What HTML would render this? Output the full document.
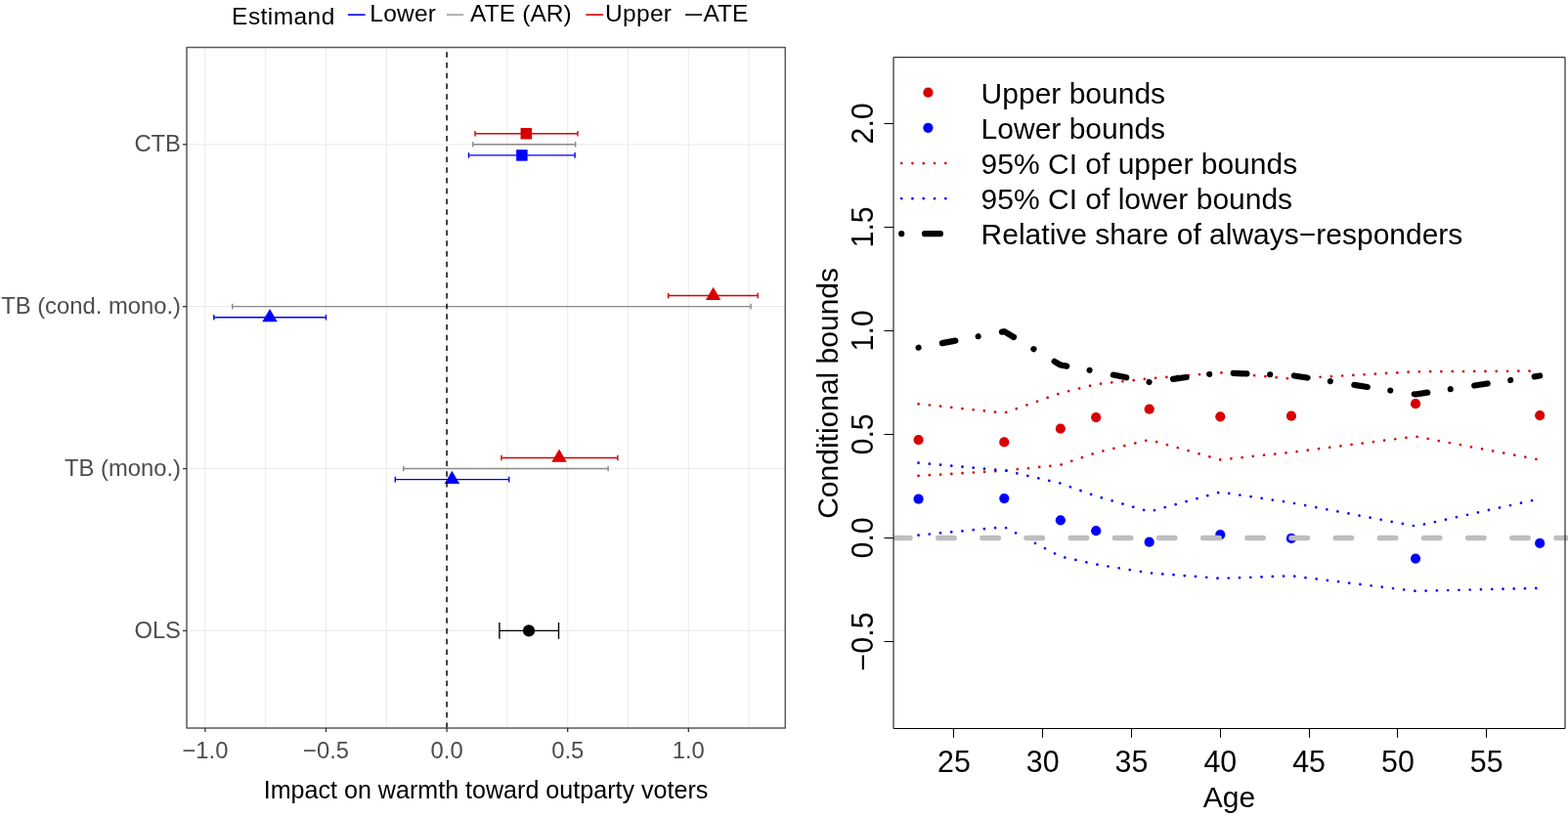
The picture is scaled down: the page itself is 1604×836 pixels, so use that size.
<!DOCTYPE html>
<html><head><meta charset="utf-8"><title>Plots</title>
<style>html,body{margin:0;padding:0;background:#fff;}body{width:1604px;height:836px;overflow:hidden;}svg{display:block;}</style>
</head><body>
<svg width="1604" height="836" viewBox="0 0 1604 836">
<rect x="0" y="0" width="1604" height="836" fill="#FFFFFF"/>
<g stroke="#EBEBEB" stroke-width="1.1"><line x1="209.90" y1="48.4" x2="209.90" y2="745.0"/><line x1="271.70" y1="48.4" x2="271.70" y2="745.0"/><line x1="333.50" y1="48.4" x2="333.50" y2="745.0"/><line x1="395.30" y1="48.4" x2="395.30" y2="745.0"/><line x1="457.10" y1="48.4" x2="457.10" y2="745.0"/><line x1="518.90" y1="48.4" x2="518.90" y2="745.0"/><line x1="580.70" y1="48.4" x2="580.70" y2="745.0"/><line x1="642.50" y1="48.4" x2="642.50" y2="745.0"/><line x1="704.30" y1="48.4" x2="704.30" y2="745.0"/><line x1="766.10" y1="48.4" x2="766.10" y2="745.0"/><line x1="191.0" y1="147.80" x2="803.3" y2="147.80"/><line x1="191.0" y1="313.67" x2="803.3" y2="313.67"/><line x1="191.0" y1="479.54" x2="803.3" y2="479.54"/><line x1="191.0" y1="645.41" x2="803.3" y2="645.41"/></g>
<g stroke="#D70000" stroke-width="1.4" fill="none"><line x1="486.00" y1="136.70" x2="591.00" y2="136.70"/><line x1="486.00" y1="133.90" x2="486.00" y2="139.50"/><line x1="591.00" y1="133.90" x2="591.00" y2="139.50"/></g>
<g stroke="#8A8A8A" stroke-width="1.4" fill="none"><line x1="483.80" y1="147.80" x2="588.70" y2="147.80"/><line x1="483.80" y1="145.00" x2="483.80" y2="150.60"/><line x1="588.70" y1="145.00" x2="588.70" y2="150.60"/></g>
<g stroke="#0000FF" stroke-width="1.4" fill="none"><line x1="479.50" y1="158.90" x2="588.10" y2="158.90"/><line x1="479.50" y1="156.10" x2="479.50" y2="161.70"/><line x1="588.10" y1="156.10" x2="588.10" y2="161.70"/></g>
<rect x="532.55" y="130.95" width="11.5" height="11.5" fill="#D70000"/>
<rect x="528.15" y="153.15" width="11.5" height="11.5" fill="#0000FF"/>
<g stroke="#D70000" stroke-width="1.4" fill="none"><line x1="683.60" y1="302.57" x2="775.20" y2="302.57"/><line x1="683.60" y1="299.77" x2="683.60" y2="305.37"/><line x1="775.20" y1="299.77" x2="775.20" y2="305.37"/></g>
<g stroke="#8A8A8A" stroke-width="1.4" fill="none"><line x1="237.70" y1="313.67" x2="768.10" y2="313.67"/><line x1="237.70" y1="310.87" x2="237.70" y2="316.47"/><line x1="768.10" y1="310.87" x2="768.10" y2="316.47"/></g>
<g stroke="#0000FF" stroke-width="1.4" fill="none"><line x1="218.80" y1="324.77" x2="333.50" y2="324.77"/><line x1="218.80" y1="321.97" x2="218.80" y2="327.57"/><line x1="333.50" y1="321.97" x2="333.50" y2="327.57"/></g>
<polygon points="729.60,293.72 737.35,307.00 721.85,307.00" fill="#D70000"/>
<polygon points="276.00,315.92 283.75,329.20 268.25,329.20" fill="#0000FF"/>
<g stroke="#D70000" stroke-width="1.4" fill="none"><line x1="512.90" y1="468.44" x2="631.90" y2="468.44"/><line x1="512.90" y1="465.64" x2="512.90" y2="471.24"/><line x1="631.90" y1="465.64" x2="631.90" y2="471.24"/></g>
<g stroke="#8A8A8A" stroke-width="1.4" fill="none"><line x1="412.70" y1="479.54" x2="622.10" y2="479.54"/><line x1="412.70" y1="476.74" x2="412.70" y2="482.34"/><line x1="622.10" y1="476.74" x2="622.10" y2="482.34"/></g>
<g stroke="#0000FF" stroke-width="1.4" fill="none"><line x1="404.30" y1="490.64" x2="520.70" y2="490.64"/><line x1="404.30" y1="487.84" x2="404.30" y2="493.44"/><line x1="520.70" y1="487.84" x2="520.70" y2="493.44"/></g>
<polygon points="572.00,459.59 579.75,472.87 564.25,472.87" fill="#D70000"/>
<polygon points="462.40,481.79 470.15,495.07 454.65,495.07" fill="#0000FF"/>
<g stroke="#000000" stroke-width="1.4" fill="none"><line x1="510.90" y1="645.41" x2="571.50" y2="645.41"/><line x1="510.90" y1="636.96" x2="510.90" y2="653.86"/><line x1="571.50" y1="636.96" x2="571.50" y2="653.86"/></g>
<circle cx="541.0" cy="645.41" r="6.1" fill="#000000"/>
<line x1="457.1" y1="48.4" x2="457.1" y2="745.0" stroke="#000" stroke-opacity="0.8" stroke-width="1.8" stroke-dasharray="5.5 5.222" stroke-dashoffset="5.822"/>
<rect x="191.0" y="48.4" width="612.30" height="696.60" fill="none" stroke="#5A5A5A" stroke-width="1.5" stroke-linejoin="round"/>
<g stroke="#333333" stroke-width="1.3"><line x1="187" y1="147.80" x2="191.0" y2="147.80"/><line x1="187" y1="313.67" x2="191.0" y2="313.67"/><line x1="187" y1="479.54" x2="191.0" y2="479.54"/><line x1="187" y1="645.41" x2="191.0" y2="645.41"/><line x1="209.90" y1="745.0" x2="209.90" y2="749"/><line x1="333.50" y1="745.0" x2="333.50" y2="749"/><line x1="457.10" y1="745.0" x2="457.10" y2="749"/><line x1="580.70" y1="745.0" x2="580.70" y2="749"/><line x1="704.30" y1="745.0" x2="704.30" y2="749"/></g>
<text x="185" y="154.90" font-family="Liberation Sans, Arial, Helvetica, sans-serif" font-size="23.8" fill="#4D4D4D" text-anchor="end">CTB</text>
<text x="185" y="320.77" font-family="Liberation Sans, Arial, Helvetica, sans-serif" font-size="23.8" fill="#4D4D4D" text-anchor="end">TB (cond. mono.)</text>
<text x="185" y="486.64" font-family="Liberation Sans, Arial, Helvetica, sans-serif" font-size="23.8" fill="#4D4D4D" text-anchor="end">TB (mono.)</text>
<text x="185" y="652.51" font-family="Liberation Sans, Arial, Helvetica, sans-serif" font-size="23.8" fill="#4D4D4D" text-anchor="end">OLS</text>
<text x="209.90" y="775.5" font-family="Liberation Sans, Arial, Helvetica, sans-serif" font-size="23.8" fill="#4D4D4D" text-anchor="middle">−1.0</text>
<text x="333.50" y="775.5" font-family="Liberation Sans, Arial, Helvetica, sans-serif" font-size="23.8" fill="#4D4D4D" text-anchor="middle">−0.5</text>
<text x="457.10" y="775.5" font-family="Liberation Sans, Arial, Helvetica, sans-serif" font-size="23.8" fill="#4D4D4D" text-anchor="middle">0.0</text>
<text x="580.70" y="775.5" font-family="Liberation Sans, Arial, Helvetica, sans-serif" font-size="23.8" fill="#4D4D4D" text-anchor="middle">0.5</text>
<text x="704.30" y="775.5" font-family="Liberation Sans, Arial, Helvetica, sans-serif" font-size="23.8" fill="#4D4D4D" text-anchor="middle">1.0</text>
<text x="497.0" y="816.7" font-family="Liberation Sans, Arial, Helvetica, sans-serif" font-size="25.1" fill="#000" text-anchor="middle">Impact on warmth toward outparty voters</text>
<text x="237.1" y="24.7" font-family="Liberation Sans, Arial, Helvetica, sans-serif" font-size="24.5" letter-spacing="0.44" fill="#000">Estimand</text>
<line x1="355.9" y1="15.1" x2="373.6" y2="15.1" stroke="#0000FF" stroke-width="1.6"/>
<text x="378.3" y="22.4" font-family="Liberation Sans, Arial, Helvetica, sans-serif" font-size="24.5" letter-spacing="0.22" fill="#000">Lower</text>
<line x1="456.8" y1="15.1" x2="474.3" y2="15.1" stroke="#A0A0A0" stroke-width="1.6"/>
<text x="481.1" y="22.4" font-family="Liberation Sans, Arial, Helvetica, sans-serif" font-size="24.5" letter-spacing="0.1" fill="#000">ATE (AR)</text>
<line x1="599.4" y1="15.1" x2="617.0" y2="15.1" stroke="#D70000" stroke-width="1.6"/>
<text x="619.1" y="22.4" font-family="Liberation Sans, Arial, Helvetica, sans-serif" font-size="24.5" letter-spacing="0.3" fill="#000">Upper</text>
<line x1="701.1" y1="15.1" x2="718.1" y2="15.1" stroke="#000000" stroke-width="1.6"/>
<text x="719.4" y="22.4" font-family="Liberation Sans, Arial, Helvetica, sans-serif" font-size="24.5" letter-spacing="0.0" fill="#000">ATE</text>
<g fill="none" stroke-linecap="round" stroke-linejoin="round">
<polyline points="939.58,413.30 1027.29,422.60 1084.86,402.20 1121.18,393.20 1175.66,387.30 1248.30,381.30 1320.94,387.40 1448.06,380.30 1575.18,379.60" stroke="#D70000" stroke-width="2.7" stroke-dasharray="0.01 11.26"/>
<polyline points="939.58,486.90 1027.29,481.60 1084.86,475.70 1121.18,463.20 1175.66,450.00 1248.30,470.40 1320.94,462.80 1448.06,446.60 1575.18,470.50" stroke="#D70000" stroke-width="2.7" stroke-dasharray="0.01 11.26"/>
<polyline points="939.58,473.70 1027.29,481.30 1084.86,494.60 1121.18,507.60 1175.66,523.50 1248.30,503.50 1320.94,514.40 1448.06,538.40 1575.18,510.40" stroke="#0000FF" stroke-width="2.7" stroke-dasharray="0.01 11.26"/>
<polyline points="939.58,547.60 1027.29,539.20 1084.86,569.50 1121.18,577.50 1175.66,586.30 1248.30,591.80 1320.94,589.30 1448.06,604.80 1575.18,601.80" stroke="#0000FF" stroke-width="2.7" stroke-dasharray="0.01 11.26"/>
<polyline points="939.58,355.70 1027.29,339.20 1084.86,373.50 1121.18,380.00 1175.66,391.00 1248.30,381.50 1320.94,384.00 1448.06,403.50 1575.18,384.50" stroke="#000" stroke-width="6.2" stroke-dasharray="0.01 24.7 13.7 23.74"/>
</g>
<circle cx="939.58" cy="450.1" r="5.1" fill="#D70000"/>
<circle cx="1027.29" cy="452.4" r="5.1" fill="#D70000"/>
<circle cx="1084.86" cy="438.6" r="5.1" fill="#D70000"/>
<circle cx="1121.18" cy="427.1" r="5.1" fill="#D70000"/>
<circle cx="1175.66" cy="418.7" r="5.1" fill="#D70000"/>
<circle cx="1248.30" cy="426.3" r="5.1" fill="#D70000"/>
<circle cx="1320.94" cy="425.7" r="5.1" fill="#D70000"/>
<circle cx="1448.06" cy="413.2" r="5.1" fill="#D70000"/>
<circle cx="1575.18" cy="425.1" r="5.1" fill="#D70000"/>
<circle cx="939.58" cy="510.7" r="5.1" fill="#0000FF"/>
<circle cx="1027.29" cy="510.1" r="5.1" fill="#0000FF"/>
<circle cx="1084.86" cy="532.3" r="5.1" fill="#0000FF"/>
<circle cx="1121.18" cy="543.2" r="5.1" fill="#0000FF"/>
<circle cx="1175.66" cy="554.7" r="5.1" fill="#0000FF"/>
<circle cx="1248.30" cy="547.1" r="5.1" fill="#0000FF"/>
<circle cx="1320.94" cy="550.9" r="5.1" fill="#0000FF"/>
<circle cx="1448.06" cy="571.6" r="5.1" fill="#0000FF"/>
<circle cx="1575.18" cy="555.9" r="5.1" fill="#0000FF"/>
<svg x="914.0" y="0" width="690.0" height="836" overflow="hidden"><line x1="-44.57" y1="550.4" x2="700.0" y2="550.4" stroke="#BEBEBE" stroke-width="5.5" stroke-linecap="round" stroke-dasharray="16.4 28.76"/></svg>
<path d="M914.0 58.7 H1601.0 V745.5 H914.0 Z" stroke="#000" stroke-width="1" fill="none" stroke-linejoin="round"/>
<g stroke="#000" stroke-width="1"><line x1="904.5" y1="656.5" x2="914.0" y2="656.5"/><line x1="904.5" y1="550.5" x2="914.0" y2="550.5"/><line x1="904.5" y1="444.5" x2="914.0" y2="444.5"/><line x1="904.5" y1="338.5" x2="914.0" y2="338.5"/><line x1="904.5" y1="232.5" x2="914.0" y2="232.5"/><line x1="904.5" y1="126.5" x2="914.0" y2="126.5"/><line x1="975.5" y1="745.5" x2="975.5" y2="754.8"/><line x1="1066.5" y1="745.5" x2="1066.5" y2="754.8"/><line x1="1157.5" y1="745.5" x2="1157.5" y2="754.8"/><line x1="1248.5" y1="745.5" x2="1248.5" y2="754.8"/><line x1="1339.5" y1="745.5" x2="1339.5" y2="754.8"/><line x1="1429.5" y1="745.5" x2="1429.5" y2="754.8"/><line x1="1520.5" y1="745.5" x2="1520.5" y2="754.8"/></g>
<text transform="translate(892.6 656.40) rotate(-90) scale(1 1.005)" font-family="Liberation Sans, Arial, Helvetica, sans-serif" font-size="30.4" fill="#000" text-anchor="middle">−0.5</text>
<text transform="translate(892.6 550.40) rotate(-90) scale(1 1.005)" font-family="Liberation Sans, Arial, Helvetica, sans-serif" font-size="30.4" fill="#000" text-anchor="middle">0.0</text>
<text transform="translate(892.6 444.40) rotate(-90) scale(1 1.005)" font-family="Liberation Sans, Arial, Helvetica, sans-serif" font-size="30.4" fill="#000" text-anchor="middle">0.5</text>
<text transform="translate(892.6 338.40) rotate(-90) scale(1 1.005)" font-family="Liberation Sans, Arial, Helvetica, sans-serif" font-size="30.4" fill="#000" text-anchor="middle">1.0</text>
<text transform="translate(892.6 232.40) rotate(-90) scale(1 1.005)" font-family="Liberation Sans, Arial, Helvetica, sans-serif" font-size="30.4" fill="#000" text-anchor="middle">1.5</text>
<text transform="translate(892.6 126.40) rotate(-90) scale(1 1.005)" font-family="Liberation Sans, Arial, Helvetica, sans-serif" font-size="30.4" fill="#000" text-anchor="middle">2.0</text>
<text transform="translate(975.90 790) scale(1 1.005)" font-family="Liberation Sans, Arial, Helvetica, sans-serif" font-size="30.4" fill="#000" text-anchor="middle">25</text>
<text transform="translate(1066.70 790) scale(1 1.005)" font-family="Liberation Sans, Arial, Helvetica, sans-serif" font-size="30.4" fill="#000" text-anchor="middle">30</text>
<text transform="translate(1157.50 790) scale(1 1.005)" font-family="Liberation Sans, Arial, Helvetica, sans-serif" font-size="30.4" fill="#000" text-anchor="middle">35</text>
<text transform="translate(1248.30 790) scale(1 1.005)" font-family="Liberation Sans, Arial, Helvetica, sans-serif" font-size="30.4" fill="#000" text-anchor="middle">40</text>
<text transform="translate(1339.10 790) scale(1 1.005)" font-family="Liberation Sans, Arial, Helvetica, sans-serif" font-size="30.4" fill="#000" text-anchor="middle">45</text>
<text transform="translate(1429.90 790) scale(1 1.005)" font-family="Liberation Sans, Arial, Helvetica, sans-serif" font-size="30.4" fill="#000" text-anchor="middle">50</text>
<text transform="translate(1520.70 790) scale(1 1.005)" font-family="Liberation Sans, Arial, Helvetica, sans-serif" font-size="30.4" fill="#000" text-anchor="middle">55</text>
<text transform="translate(1257.5 825.5)" font-family="Liberation Sans, Arial, Helvetica, sans-serif" font-size="30" fill="#000" text-anchor="middle">Age</text>
<text transform="translate(856.6 402.4) rotate(-90)" font-family="Liberation Sans, Arial, Helvetica, sans-serif" font-size="30" fill="#000" text-anchor="middle">Conditional bounds</text>
<circle cx="949.4" cy="94.7" r="5.1" fill="#D70000"/>
<circle cx="949.4" cy="130.8" r="5.1" fill="#0000FF"/>
<line x1="922.2" y1="167.1" x2="970" y2="167.1" stroke="#D70000" stroke-width="2.7" stroke-linecap="round" stroke-dasharray="0.01 11.26"/>
<line x1="922.2" y1="203.2" x2="970" y2="203.2" stroke="#0000FF" stroke-width="2.7" stroke-linecap="round" stroke-dasharray="0.01 11.26"/>
<line x1="922.2" y1="239.2" x2="968" y2="239.2" stroke="#000" stroke-width="6.2" stroke-linecap="round" stroke-dasharray="0.01 23.8 15.9 30"/>
<text transform="translate(1003.6 105.9)" font-family="Liberation Sans, Arial, Helvetica, sans-serif" font-size="30" fill="#000">Upper bounds</text>
<text transform="translate(1003.6 142.0)" font-family="Liberation Sans, Arial, Helvetica, sans-serif" font-size="30" fill="#000">Lower bounds</text>
<text transform="translate(1003.6 178.3)" font-family="Liberation Sans, Arial, Helvetica, sans-serif" font-size="30" fill="#000">95% CI of upper bounds</text>
<text transform="translate(1003.6 214.4)" font-family="Liberation Sans, Arial, Helvetica, sans-serif" font-size="30" fill="#000">95% CI of lower bounds</text>
<text transform="translate(1003.6 250.4)" font-family="Liberation Sans, Arial, Helvetica, sans-serif" font-size="30" fill="#000">Relative share of always−responders</text>
</svg>
</body></html>
